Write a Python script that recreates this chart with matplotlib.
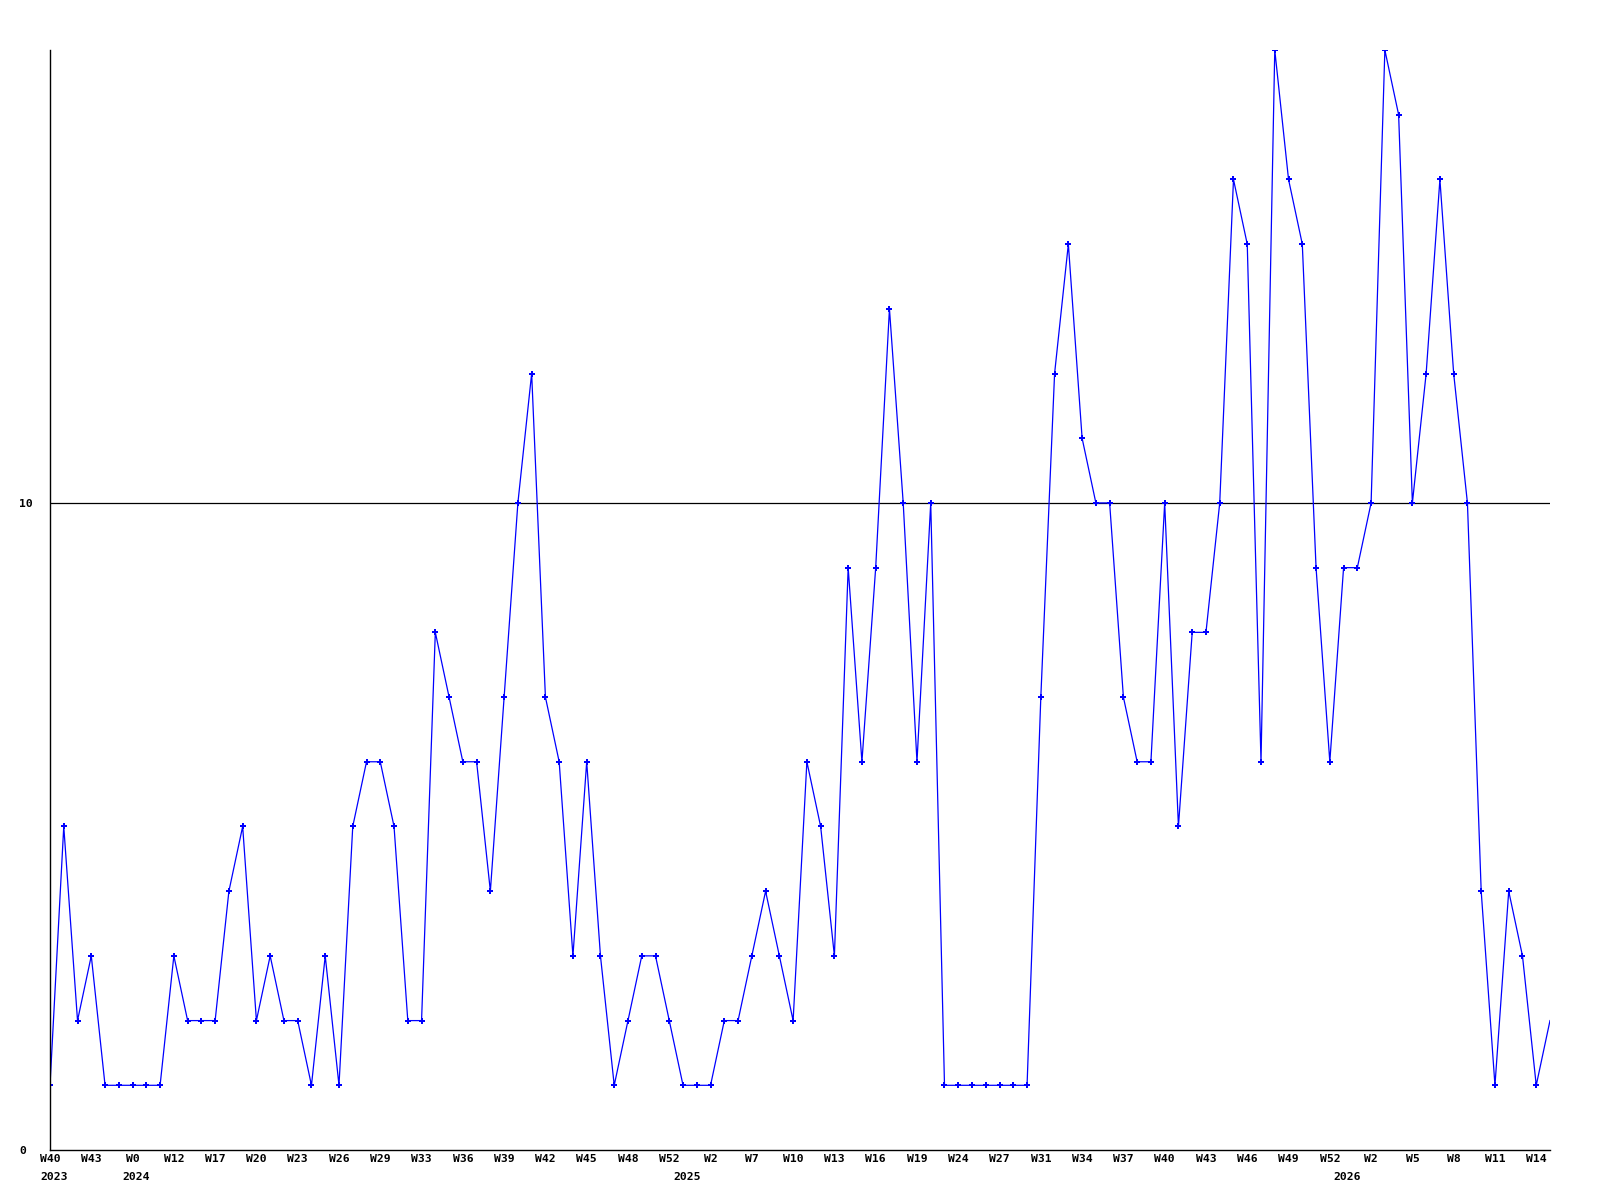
import matplotlib
matplotlib.use("Agg")
import matplotlib.pyplot as plt
from matplotlib.transforms import blended_transform_factory, offset_copy

# weekly values, W40 2023 .. W14 2026 (110 weeks)
values = [1, 5, 2, 3, 1, 1, 1, 1, 1, 3,
          2, 2, 2, 4, 5, 2, 3, 2, 2, 1,
          3, 1, 5, 6, 6, 5, 2, 2, 8, 7,
          6, 6, 4, 7, 10, 12, 7, 6, 3, 6,
          3, 1, 2, 3, 3, 2, 1, 1, 1, 2,
          2, 3, 4, 3, 2, 6, 5, 3, 9, 6,
          9, 13, 10, 6, 10, 1, 1, 1, 1, 1,
          1, 1, 7, 12, 14, 11, 10, 10, 7, 6,
          6, 10, 5, 8, 8, 10, 15, 14, 6, 17,
          15, 14, 9, 6, 9, 9, 10, 17, 16, 10,
          12, 15, 12, 10, 4, 1, 4, 3, 1, 2]

tick_labels = ["W40", "W43", "W0", "W12", "W17", "W20", "W23", "W26", "W29",
               "W33", "W36", "W39", "W42", "W45", "W48", "W52", "W2", "W7",
               "W10", "W13", "W16", "W19", "W24", "W27", "W31", "W34", "W37",
               "W40", "W43", "W46", "W49", "W52", "W2", "W5", "W8", "W11", "W14"]
tick_step = 3

year_labels = ["2023", "2024", "2025", "2026"]
year_positions = [0, 6, 46, 94]

y_ticks = [0, 10]

x = list(range(len(values)))

fig = plt.figure(figsize=(16, 12), dpi=100)
ax = fig.add_axes([50 / 1600, 50 / 1200, 1500 / 1600, 1100 / 1200])

ax.plot(x, values, color="#0000ff", lw=0.9, marker="P", markersize=3.8,
        markeredgewidth=0, markevery=list(range(len(values) - 1)))

ax.set_xlim(0, len(values) - 1)
ax.set_ylim(0, 17)

for s in ["top", "right"]:
    ax.spines[s].set_visible(False)
for s in ["left", "bottom"]:
    ax.spines[s].set_color("black")
    ax.spines[s].set_linewidth(1.0)

font = dict(family="DejaVu Sans Mono", weight="bold", size=8.2)

ax.set_xticks(x[::tick_step][:len(tick_labels)])
ax.set_xticklabels(tick_labels, **font)
ax.tick_params(axis="x", length=0, pad=3)

ax.set_yticks(y_ticks)
ax.set_yticklabels([str(v) for v in y_ticks], **font)
ax.tick_params(axis="y", length=0, pad=22)
for lbl in ax.get_yticklabels():
    lbl.set_horizontalalignment("left")

for yv in y_ticks[1:]:
    ax.axhline(yv, color="black", lw=0.9, zorder=1)

trans = blended_transform_factory(ax.transData, ax.transAxes)
trans = offset_copy(trans, fig=fig, x=-10, y=-27, units="dots")
for lab, pos in zip(year_labels, year_positions):
    ax.text(pos, 0, lab, transform=trans, ha="left", va="center",
            clip_on=False, **font)

fig.savefig("out.png", dpi=100)
